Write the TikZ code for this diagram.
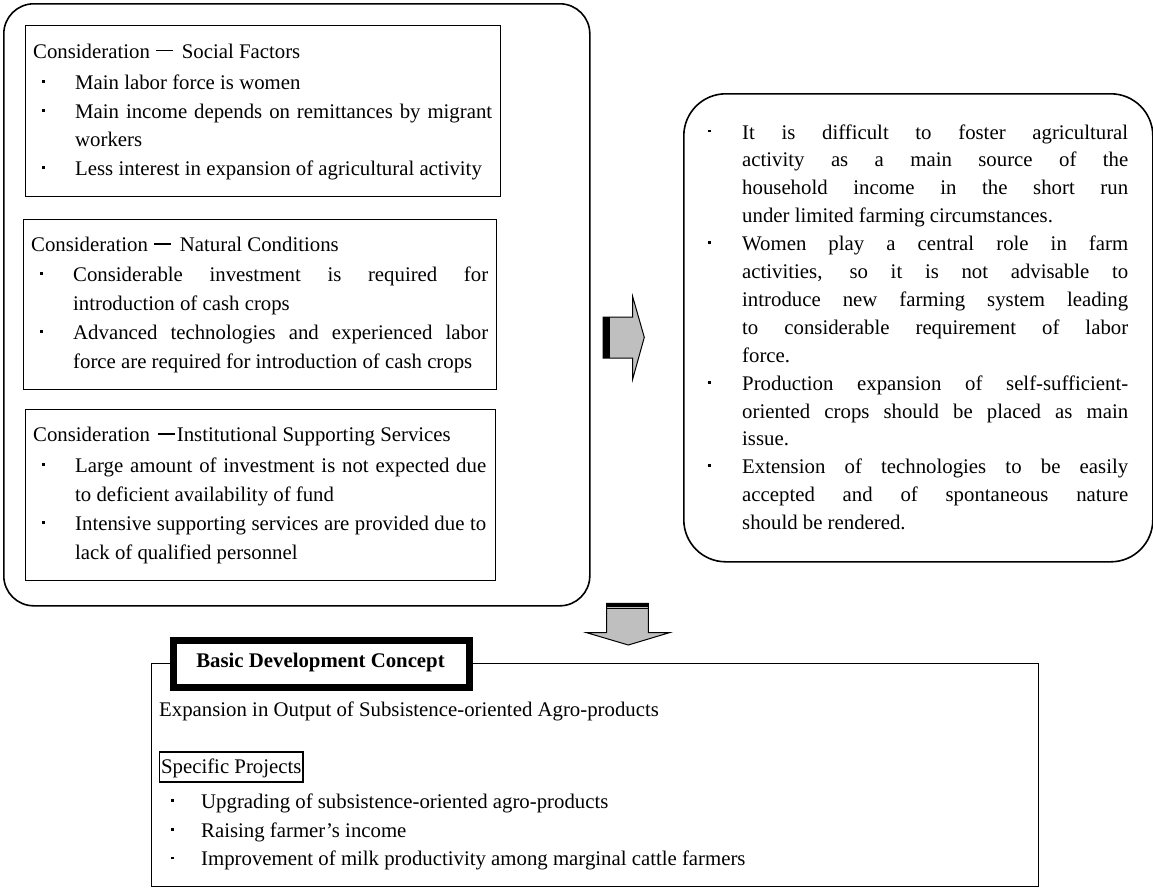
\documentclass[tikz,border=0pt]{standalone}
\usepackage{fontspec}
\setmainfont{Liberation Serif}
% bullet hung to the left of the text start, and a fully justified line
\newcommand\bul[1][34]{\leavevmode\llap{\makebox[#1pt][l]{\hspace{1pt}\raisebox{6.6pt}{\rule{2.8pt}{2.8pt}}}}}
\newcommand\jus[1]{\makebox[\linewidth][s]{#1}}
\newcommand\fdash{\raisebox{7pt}{\rule{17pt}{1.3pt}}}
\tikzset{
  outerbox/.style={draw, line width=1.6pt, rounded corners=30pt, anchor=north west, inner sep=0pt},
  factorbox/.style={draw, line width=1.3pt, anchor=north west, inner sep=0pt},
  txt/.style={inner sep=0pt, anchor=base west, font=\fontsize{20.8}{28.8}\selectfont},
  blockarrow/.style={fill=black!25, draw=black, line width=1pt, line join=miter},
}
\begin{document}
\begin{tikzpicture}[x=1pt, y=-1pt]
\useasboundingbox (0,0) rectangle (1153,887);

% ---- considerations (left group) ----
\node[outerbox, minimum width=586pt, minimum height=602pt] (cons) at (3,3) {};

\node[factorbox, minimum width=475pt, minimum height=171pt] (social) at (25,25) {};
\node[txt] (socialT) at (33,58.3) {Consideration\hspace{6pt}\fdash\hspace{9pt}Social Factors};
\node[txt] (socialB) at (75,89.3) {\parbox[t]{417pt}{%
  \bul Main labor force is women\\
  \bul\jus{Main income depends on remittances by migrant}\\
  workers\\
  \bul Less interest in expansion of agricultural activity}};

\node[factorbox, minimum width=473pt, minimum height=170pt] (natural) at (23,219) {};
\node[txt] (naturalT) at (31,251.7) {Consideration\hspace{6pt}\fdash\hspace{9pt}Natural Conditions};
\node[txt] (naturalB) at (73,281.7) {\parbox[t]{415pt}{%
  \bul\jus{Considerable investment is required for}\\
  introduction of cash crops\\
  \bul\jus{Advanced technologies and experienced labor}\\
  force are required for introduction of cash crops}};

\node[factorbox, minimum width=470pt, minimum height=171pt] (inst) at (25,409) {};
\node[txt] (instT) at (33,441.7) {Consideration\hspace{8pt}\fdash\hspace{2pt}Institutional Supporting Services};
\node[txt] (instB) at (75,472.7) {\parbox[t]{411pt}{%
  \bul\jus{Large amount of investment is not expected due}\\
  to deficient availability of fund\\
  \bul\jus{Intensive supporting services are provided due to}\\
  lack of qualified personnel}};

% ---- implications (right box) ----
\node[outerbox, rounded corners=42pt, minimum width=469pt, minimum height=468pt] (impl) at (683,93) {};
\node[txt, font=\fontsize{20.8}{27.9}\selectfont] (implB) at (742,139) {\parbox[t]{386pt}{%
  \bul[35]\jus{It is difficult to foster agricultural}\\
  \jus{activity as a main source of the}\\
  \jus{household income in the short run}\\
  under limited farming circumstances.\\
  \bul[35]\jus{Women play a central role in farm}\\
  \jus{activities, so it is not advisable to}\\
  \jus{introduce new farming system leading}\\
  \jus{to considerable requirement of labor}\\
  force.\\
  \bul[35]\jus{Production expansion of self-sufficient-}\\
  \jus{oriented crops should be placed as main}\\
  issue.\\
  \bul[35]\jus{Extension of technologies to be easily}\\
  \jus{accepted and of spontaneous nature}\\
  should be rendered.}};

% ---- block arrows ----
\draw[blockarrow] (603,317) -- (632.7,317) -- (632.7,296.7) -- (644.3,337.3)
  -- (632.7,379) -- (632.7,358) -- (603,358) -- cycle;
\fill (603,317) rectangle (608.5,358);
\draw[line width=1.2pt] (609.8,317) -- (609.8,358);

\draw[blockarrow] (606.7,603.3) -- (648.3,603.3) -- (648.3,632.7) -- (669.3,632.7)
  -- (628.3,645) -- (586.7,632.7) -- (606.7,632.7) -- cycle;
\fill (606.7,603.3) rectangle (648.3,606.8);
\draw[line width=1.2pt] (606.7,608.6) -- (648.3,608.6);

% ---- basic development concept ----
\node[factorbox, minimum width=887pt, minimum height=223pt] (concept) at (151,663) {};
\node[draw, line width=7pt, fill=white, anchor=north west, inner sep=0pt,
      minimum width=296pt, minimum height=47pt] (title) at (169.5,636.5) {};
\node[txt, anchor=base, font=\fontsize{20.8}{28.8}\selectfont\bfseries] (titleT) at (320.5,667) {Basic Development Concept};

\node[txt] (goal) at (159,716.7) {Expansion in Output of Subsistence-oriented Agro-products};
\node[txt, draw, line width=1.2pt, inner xsep=1.5pt, text height=21.3pt, text depth=8.7pt] (proj) at (159,773.3) {Specific Projects};
\node[txt] (projB) at (201,808.3) {\parbox[t]{800pt}{%
  \bul[31]Upgrading of subsistence-oriented agro-products\\
  \bul[31]Raising farmer’s income\\
  \bul[31]Improvement of milk productivity among marginal cattle farmers}};
\end{tikzpicture}
\end{document}
